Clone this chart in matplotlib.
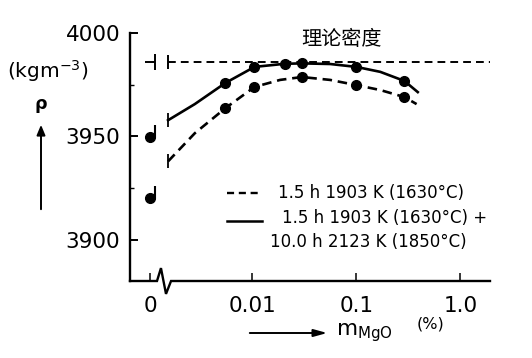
"""
Density of MgO-doped alumina vs. MgO content, two firing schedules.
"""

import matplotlib
matplotlib.use("Agg")
import matplotlib.pyplot as plt
from matplotlib.path import Path
from matplotlib.ticker import FixedLocator, NullLocator

plt.rcParams["font.family"] = ["DejaVu Sans", "Noto Sans CJK SC"]

W, H = 532, 358

# ------------------------------------------------------------
# Data
# ------------------------------------------------------------
THEORY_RHO = 3986.0
THEORY_M = [0.00155, 1.95]

# "0" cannot sit on a log axis, so it gets a stand-in spot left of the break
ZERO_AT = 0.00104
ZERO_RHO_SOLID = 3949.5
ZERO_RHO_DASHED = 3920.0

SOLID_TRACE_M = [0.00155, 0.0028, 0.0055, 0.0105, 0.0205, 0.030, 0.056, 0.10, 0.17, 0.29, 0.39]
SOLID_TRACE_RHO = [3957.8, 3965.6, 3975.8, 3983.6, 3985.1, 3985.3, 3985.0, 3983.6, 3981.2, 3976.8, 3971.4]
SOLID_DOT_M = [0.0055, 0.0105, 0.0205, 0.030, 0.10, 0.29]
SOLID_DOT_RHO = [3975.8, 3983.6, 3985.1, 3985.3, 3983.6, 3976.8]

DASHED_TRACE_M = [0.00155, 0.0028, 0.0055, 0.0105, 0.0185, 0.030, 0.056, 0.10, 0.17, 0.29, 0.38]
DASHED_TRACE_RHO = [3937.9, 3951.5, 3963.6, 3973.9, 3977.3, 3978.7, 3977.3, 3974.8, 3972.4, 3969.0, 3965.6]
DASHED_DOT_M = [0.0055, 0.0105, 0.030, 0.10, 0.29]
DASHED_DOT_RHO = [3963.6, 3973.9, 3978.7, 3974.8, 3969.0]

X_TICKS = [ZERO_AT, 0.01, 0.1, 1.0]
X_TICK_LABELS = ["0", "0.01", "0.1", "1.0"]
Y_TICKS = [3900, 3950, 4000]
Y_MINOR = [3925, 3975]

LEGEND_DASHED = "1.5 h 1903 K (1630°C)"
LEGEND_SOLID_1 = "1.5 h 1903 K (1630°C) +"
LEGEND_SOLID_2 = "10.0 h 2123 K (1850°C)"
THEORY_LABEL = "理论密度"


def fx(px):
    return px / W


def fy(py):
    return 1 - py / H


# ------------------------------------------------------------
# Custom markers
# ------------------------------------------------------------
# dot with a little stem on its right, as drawn at m = 0
stem = Path([(0.22, 0.0), (0.22, 0.5)], [Path.MOVETO, Path.LINETO])
# "-|" mark for the theoretical density at m = 0
dash_bar = Path([(-0.33, 0.0), (0.3, 0.0), (0.3, -0.5), (0.3, 0.5)],
                [Path.MOVETO, Path.LINETO, Path.MOVETO, Path.LINETO])


fig = plt.figure(figsize=(W / 100, H / 100), dpi=100)
ax = fig.add_axes([fx(130), fy(281), fx(490) - fx(130), fy(33) - fy(281)])

ax.set_xscale("log")
ax.set_xlim(0.000667, 1.93)
ax.set_ylim(3880, 4000)

dash = (3.6, 2.2)
LW = 1.9

# theoretical density
ax.plot(THEORY_M, [THEORY_RHO] * 2, color="black", lw=1.4, ls=(0, (4, 2.6)),
        marker="|", ms=10, mew=1.4, markevery=[0])
ax.plot([ZERO_AT], [THEORY_RHO], color="black", marker=dash_bar, ms=11, mew=1.4,
        ls="none")

# long firing (solid)
ax.plot(SOLID_TRACE_M, SOLID_TRACE_RHO, color="black", lw=LW,
        marker="|", ms=10, mew=1.3, markevery=[0])
ax.plot(SOLID_DOT_M, SOLID_DOT_RHO, "o", color="black", ms=7)

# short firing (dashed)
ax.plot(DASHED_TRACE_M, DASHED_TRACE_RHO, color="black", lw=LW, ls=(0, dash),
        marker="|", ms=10, mew=1.3, markevery=[0])
ax.plot(DASHED_DOT_M, DASHED_DOT_RHO, "o", color="black", ms=7)

# m = 0 points
ax.plot([ZERO_AT, ZERO_AT], [ZERO_RHO_SOLID, ZERO_RHO_DASHED], "o", color="black", ms=7)
ax.plot([ZERO_AT, ZERO_AT], [ZERO_RHO_SOLID, ZERO_RHO_DASHED], color="black",
        marker=stem, ms=17, mew=1.5, ls="none")

# ------------------------------------------------------------
# Axes styling
# ------------------------------------------------------------
for side in ["top", "right", "bottom"]:
    ax.spines[side].set_visible(False)
ax.spines["left"].set_linewidth(1.7)

# bottom axis with the break zigzag
ax.plot([0, 0.075, 0.086, 0.1, 0.114, 1.0], [0, 0, 0.052, -0.052, 0, 0],
        transform=ax.transAxes, color="black", lw=1.7, clip_on=False,
        solid_joinstyle="miter")

ax.xaxis.set_major_locator(FixedLocator(X_TICKS))
ax.xaxis.set_minor_locator(NullLocator())
ax.set_xticklabels(X_TICK_LABELS)
ax.yaxis.set_major_locator(FixedLocator(Y_TICKS))
ax.yaxis.set_minor_locator(FixedLocator(Y_MINOR))

ax.tick_params(axis="x", which="major", direction="in", length=6, width=1.1,
               pad=11, labelsize=15.5)
ax.tick_params(axis="y", which="major", direction="in", length=6, width=1.4,
               pad=7, labelsize=15.5)
ax.tick_params(axis="y", which="minor", direction="in", length=3, width=1)

# ------------------------------------------------------------
# Labels
# ------------------------------------------------------------
fig.text(fx(7), fy(71), "(kgm$^{-3}$)", fontsize=14.5, ha="left", va="center")
fig.text(fx(41), fy(104), "ρ", fontsize=12.5, fontweight="bold", ha="center", va="center")
fig.add_artist(matplotlib.patches.FancyArrowPatch(
    (fx(41), fy(212)), (fx(41), fy(122)), transform=fig.transFigure,
    arrowstyle="-|>,head_length=6,head_width=2.5", color="black", lw=1.4))

fig.add_artist(matplotlib.patches.FancyArrowPatch(
    (fx(247), fy(333)), (fx(330), fy(333)), transform=fig.transFigure,
    arrowstyle="-|>,head_length=8,head_width=2.2", color="black", lw=1.4))
fig.text(fx(336), fy(333), r"$\mathregular{m_{MgO}}$", fontsize=15.5, ha="left", va="center")
fig.text(fx(417), fy(324), "(%)", fontsize=11.5, ha="left", va="center")

fig.text(fx(342), fy(39), THEORY_LABEL, fontsize=14.5, ha="center", va="center")

# legend, drawn by hand to keep the two-line entry layout
fig.add_artist(plt.Line2D([fx(227), fx(262)], [fy(193), fy(193)], color="black",
                          lw=1.7, ls=(0, (3, 2))))
fig.add_artist(plt.Line2D([fx(227), fx(262)], [fy(221), fy(221)], color="black", lw=1.8))
fig.text(fx(278), fy(193), LEGEND_DASHED, fontsize=12, ha="left", va="center")
fig.text(fx(282), fy(218), LEGEND_SOLID_1, fontsize=12, ha="left", va="center")
fig.text(fx(270), fy(242), LEGEND_SOLID_2, fontsize=12, ha="left", va="center")

fig.savefig("out.png", dpi=100)
